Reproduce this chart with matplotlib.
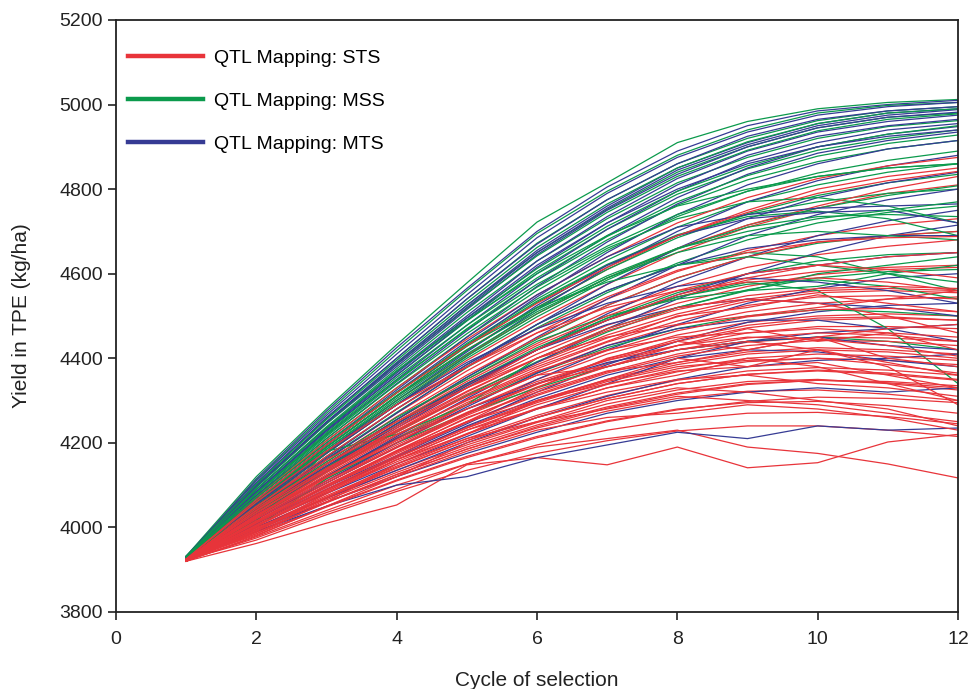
import numpy as np
from matplotlib import pyplot as plt
from matplotlib.lines import Line2D

# Cycle of selection
cycles = list(range(1, 13))

# QTL Mapping: STS (red) - yield per cycle
sts = [
    [3925, 4060, 4190, 4310, 4420, 4520, 4610, 4690, 4750, 4800, 4830, 4850],
    [3922, 4050, 4175, 4290, 4395, 4490, 4575, 4650, 4710, 4755, 4790, 4810],
    [3924, 4045, 4160, 4270, 4370, 4460, 4540, 4605, 4655, 4690, 4715, 4730],
    [3920, 4040, 4150, 4255, 4350, 4435, 4510, 4570, 4615, 4645, 4665, 4680],
    [3926, 4035, 4140, 4240, 4330, 4410, 4478, 4530, 4570, 4598, 4610, 4615],
    [3921, 4030, 4132, 4228, 4315, 4390, 4455, 4505, 4540, 4560, 4565, 4560],
    [3923, 4025, 4122, 4212, 4295, 4368, 4430, 4478, 4510, 4530, 4540, 4545],
    [3925, 4020, 4115, 4200, 4280, 4350, 4410, 4455, 4485, 4500, 4505, 4500],
    [3920, 4015, 4105, 4188, 4265, 4332, 4388, 4430, 4460, 4475, 4475, 4470],
    [3922, 4012, 4098, 4178, 4250, 4315, 4368, 4410, 4438, 4450, 4448, 4440],
    [3924, 4008, 4090, 4168, 4238, 4300, 4350, 4390, 4415, 4425, 4420, 4410],
    [3921, 4005, 4082, 4155, 4222, 4282, 4330, 4368, 4392, 4400, 4395, 4385],
    [3923, 4000, 4075, 4145, 4210, 4265, 4312, 4348, 4370, 4378, 4372, 4360],
    [3920, 3995, 4068, 4135, 4195, 4248, 4292, 4325, 4345, 4350, 4340, 4325],
    [3925, 3990, 4060, 4125, 4185, 4235, 4275, 4305, 4322, 4325, 4315, 4300],
    [3922, 3985, 4050, 4112, 4168, 4215, 4252, 4280, 4295, 4298, 4288, 4270],
    [3921, 3978, 4040, 4100, 4150, 4195, 4230, 4255, 4270, 4272, 4262, 4245],
    [3924, 3970, 4030, 4085, 4135, 4175, 4205, 4228, 4240, 4240, 4230, 4215],
    [3920, 3962, 4010, 4053, 4148, 4165, 4148, 4190, 4141, 4153, 4202, 4220],
    [3922, 3975, 4035, 4090, 4150, 4190, 4210, 4230, 4190, 4175, 4150, 4117],
    [3924, 4070, 4205, 4330, 4445, 4550, 4640, 4720, 4780, 4825, 4855, 4875],
    [3921, 4055, 4180, 4300, 4408, 4505, 4590, 4660, 4715, 4760, 4800, 4830],
    [3923, 4042, 4155, 4262, 4360, 4448, 4525, 4590, 4640, 4675, 4690, 4700],
    [3925, 4038, 4145, 4245, 4338, 4420, 4490, 4545, 4585, 4605, 4615, 4620],
    [3920, 4028, 4130, 4225, 4310, 4385, 4448, 4498, 4535, 4555, 4560, 4555],
    [3922, 4018, 4110, 4195, 4272, 4340, 4395, 4440, 4472, 4490, 4495, 4490],
    [3924, 4010, 4095, 4175, 4248, 4312, 4365, 4405, 4430, 4442, 4440, 4430],
    [3921, 4003, 4085, 4160, 4230, 4290, 4338, 4375, 4400, 4410, 4405, 4395],
    [3923, 3998, 4072, 4142, 4205, 4260, 4305, 4340, 4362, 4370, 4362, 4348],
    [3920, 3992, 4065, 4130, 4190, 4242, 4285, 4318, 4340, 4348, 4342, 4330],
    [3925, 3982, 4048, 4110, 4165, 4212, 4250, 4278, 4298, 4308, 4305, 4295],
    [3922, 4048, 4168, 4280, 4380, 4470, 4545, 4608, 4650, 4675, 4685, 4688],
    [3920, 4032, 4138, 4235, 4322, 4400, 4465, 4515, 4548, 4565, 4570, 4565],
    [3924, 4022, 4118, 4208, 4290, 4360, 4418, 4465, 4498, 4515, 4518, 4510],
    [3921, 4012, 4100, 4182, 4258, 4325, 4380, 4420, 4448, 4460, 4455, 4440],
    [3923, 4005, 4088, 4165, 4235, 4298, 4348, 4385, 4410, 4420, 4415, 4400],
    [3920, 3995, 4070, 4140, 4205, 4260, 4305, 4340, 4362, 4372, 4365, 4350],
    [3925, 4065, 4195, 4318, 4430, 4530, 4615, 4690, 4745, 4790, 4820, 4842],
    [3922, 4025, 4125, 4218, 4302, 4375, 4438, 4488, 4525, 4545, 4548, 4540],
    [3924, 4015, 4105, 4190, 4268, 4338, 4398, 4445, 4478, 4495, 4498, 4490],
    [3921, 3988, 4058, 4125, 4185, 4238, 4282, 4315, 4338, 4348, 4345, 4335],
    [3922, 4010, 4090, 4170, 4250, 4330, 4400, 4440, 4420, 4450, 4400, 4380],
    [3924, 4030, 4120, 4200, 4290, 4360, 4380, 4430, 4470, 4440, 4460, 4420],
    [3920, 4000, 4060, 4150, 4220, 4300, 4350, 4400, 4380, 4420, 4390, 4360],
    [3925, 4040, 4140, 4230, 4310, 4380, 4440, 4500, 4520, 4550, 4530, 4510],
    [3921, 3990, 4080, 4160, 4230, 4280, 4330, 4360, 4400, 4380, 4340, 4300],
    [3923, 4020, 4110, 4190, 4270, 4340, 4380, 4420, 4440, 4420, 4380, 4290],
    [3922, 4050, 4160, 4250, 4330, 4400, 4450, 4480, 4500, 4520, 4540, 4560],
    [3920, 3980, 4050, 4120, 4200, 4250, 4300, 4330, 4320, 4300, 4280, 4240],
    [3924, 4035, 4135, 4230, 4320, 4400, 4470, 4520, 4540, 4530, 4500, 4460],
    [3921, 4015, 4095, 4180, 4260, 4320, 4370, 4390, 4420, 4450, 4470, 4480],
    [3925, 4060, 4180, 4290, 4380, 4460, 4520, 4560, 4580, 4590, 4580, 4560],
    [3922, 4005, 4080, 4160, 4220, 4280, 4320, 4350, 4360, 4340, 4330, 4310],
    [3920, 3995, 4070, 4150, 4210, 4250, 4280, 4310, 4300, 4290, 4270, 4250],
    [3923, 4025, 4130, 4220, 4300, 4370, 4420, 4450, 4460, 4470, 4460, 4450],
    [3924, 4045, 4150, 4240, 4330, 4420, 4490, 4550, 4590, 4620, 4640, 4650],
    [3921, 4012, 4100, 4180, 4250, 4300, 4340, 4370, 4380, 4390, 4360, 4330],
    [3925, 3985, 4060, 4120, 4180, 4230, 4260, 4270, 4290, 4280, 4260, 4230],
    [3922, 4028, 4118, 4205, 4280, 4345, 4395, 4430, 4450, 4445, 4430, 4405],
    [3920, 4040, 4150, 4250, 4345, 4430, 4500, 4560, 4600, 4620, 4610, 4590],
    [3924, 4002, 4085, 4165, 4235, 4295, 4345, 4380, 4395, 4400, 4385, 4365],
]

# QTL Mapping: MSS (green)
mss = [
    [3932, 4120, 4280, 4432, 4578, 4722, 4815, 4910, 4960, 4990, 5005, 5012],
    [3931, 4112, 4270, 4418, 4560, 4695, 4795, 4880, 4940, 4980, 4998, 5005],
    [3930, 4105, 4258, 4400, 4540, 4672, 4775, 4860, 4920, 4962, 4985, 4995],
    [3932, 4098, 4248, 4388, 4525, 4650, 4752, 4840, 4900, 4945, 4970, 4980],
    [3930, 4090, 4238, 4375, 4508, 4630, 4730, 4815, 4875, 4920, 4948, 4962],
    [3929, 4082, 4225, 4360, 4488, 4605, 4705, 4788, 4848, 4892, 4920, 4940],
    [3931, 4076, 4215, 4345, 4470, 4585, 4680, 4762, 4822, 4865, 4895, 4915],
    [3930, 4070, 4205, 4330, 4450, 4560, 4655, 4735, 4795, 4838, 4868, 4890],
    [3930, 4064, 4195, 4318, 4435, 4540, 4632, 4710, 4770, 4810, 4840, 4860],
    [3929, 4058, 4185, 4305, 4418, 4520, 4610, 4685, 4742, 4785, 4815, 4835],
    [3930, 4052, 4175, 4290, 4400, 4498, 4585, 4658, 4715, 4755, 4785, 4808],
    [3931, 4060, 4190, 4312, 4428, 4532, 4620, 4690, 4740, 4770, 4790, 4800],
    [3930, 4045, 4162, 4272, 4378, 4472, 4555, 4625, 4680, 4720, 4745, 4760],
    [3930, 4040, 4150, 4255, 4355, 4445, 4525, 4590, 4640, 4672, 4690, 4700],
    [3929, 4035, 4140, 4240, 4335, 4420, 4495, 4555, 4600, 4630, 4645, 4650],
    [3930, 4030, 4130, 4225, 4312, 4392, 4462, 4520, 4562, 4590, 4605, 4610],
    [3930, 4072, 4210, 4338, 4458, 4568, 4660, 4730, 4770, 4780, 4760, 4720],
    [3931, 4085, 4232, 4368, 4495, 4612, 4712, 4795, 4855, 4900, 4930, 4950],
    [3930, 4025, 4120, 4210, 4290, 4365, 4425, 4470, 4500, 4515, 4510, 4500],
    [3929, 4000, 4115, 4200, 4270, 4330, 4380, 4420, 4440, 4450, 4440, 4420],
    [3930, 4050, 4168, 4280, 4385, 4480, 4560, 4620, 4650, 4640, 4600, 4560],
    [3930, 4095, 4245, 4385, 4518, 4642, 4745, 4830, 4892, 4938, 4965, 4978],
    [3930, 4040, 4150, 4250, 4340, 4420, 4490, 4545, 4580, 4560, 4470, 4340],
    [3930, 4065, 4195, 4318, 4432, 4535, 4622, 4692, 4735, 4748, 4730, 4690],
    [3931, 4080, 4222, 4355, 4478, 4590, 4688, 4770, 4832, 4878, 4908, 4928],
    [3930, 4055, 4178, 4295, 4405, 4505, 4590, 4660, 4710, 4735, 4740, 4735],
    [3929, 4035, 4142, 4245, 4340, 4425, 4495, 4545, 4575, 4585, 4570, 4540],
    [3930, 4102, 4255, 4395, 4532, 4662, 4765, 4850, 4912, 4955, 4980, 4990],
    [3930, 4015, 4180, 4220, 4290, 4400, 4470, 4520, 4560, 4600, 4620, 4640],
    [3930, 4060, 4185, 4300, 4410, 4510, 4590, 4650, 4690, 4700, 4690, 4680],
    [3930, 4070, 4200, 4320, 4430, 4520, 4580, 4620, 4640, 4620, 4600, 4580],
    [3931, 4090, 4235, 4370, 4490, 4600, 4690, 4760, 4800, 4830, 4850, 4860],
    [3930, 4045, 4155, 4260, 4350, 4440, 4500, 4540, 4560, 4570, 4600, 4620],
    [3929, 4080, 4218, 4348, 4468, 4575, 4665, 4740, 4795, 4830, 4850, 4860],
    [3930, 4062, 4190, 4310, 4420, 4515, 4595, 4660, 4700, 4730, 4750, 4770],
]

# QTL Mapping: MTS (blue)
mts = [
    [3930, 4115, 4275, 4425, 4565, 4700, 4805, 4890, 4950, 4985, 5000, 5010],
    [3931, 4110, 4265, 4410, 4550, 4685, 4790, 4875, 4935, 4975, 4995, 5005],
    [3929, 4105, 4260, 4400, 4540, 4670, 4775, 4860, 4925, 4965, 4985, 4995],
    [3930, 4100, 4250, 4390, 4525, 4655, 4760, 4850, 4910, 4955, 4980, 4990],
    [3932, 4095, 4245, 4380, 4515, 4645, 4750, 4835, 4900, 4945, 4970, 4982],
    [3930, 4090, 4235, 4370, 4500, 4630, 4735, 4825, 4890, 4935, 4960, 4975],
    [3928, 4085, 4228, 4360, 4490, 4615, 4720, 4810, 4880, 4925, 4950, 4965],
    [3930, 4080, 4220, 4350, 4478, 4600, 4705, 4795, 4865, 4910, 4940, 4955],
    [3931, 4075, 4210, 4340, 4465, 4585, 4690, 4780, 4850, 4900, 4930, 4948],
    [3929, 4070, 4200, 4325, 4450, 4570, 4675, 4765, 4835, 4885, 4915, 4935],
    [3930, 4060, 4190, 4310, 4430, 4545, 4650, 4740, 4810, 4860, 4895, 4915],
    [3930, 4050, 4175, 4290, 4405, 4515, 4615, 4700, 4770, 4820, 4855, 4880],
    [3928, 4045, 4160, 4270, 4380, 4480, 4575, 4660, 4730, 4780, 4815, 4840],
    [3930, 4040, 4150, 4255, 4355, 4450, 4540, 4620, 4690, 4740, 4775, 4800],
    [3929, 4030, 4135, 4235, 4330, 4420, 4505, 4580, 4640, 4690, 4725, 4750],
    [3930, 4025, 4120, 4215, 4305, 4390, 4470, 4540, 4600, 4650, 4690, 4715],
    [3928, 4020, 4105, 4190, 4270, 4350, 4420, 4480, 4530, 4565, 4590, 4600],
    [3930, 4015, 4095, 4170, 4245, 4320, 4385, 4440, 4485, 4510, 4525, 4530],
    [3927, 4005, 4080, 4150, 4215, 4280, 4340, 4400, 4440, 4460, 4470, 4480],
    [3929, 4000, 4070, 4135, 4200, 4260, 4310, 4350, 4380, 4395, 4400, 4410],
    [3928, 3995, 4060, 4120, 4175, 4225, 4270, 4300, 4320, 4330, 4320, 4330],
    [3926, 3990, 4050, 4100, 4120, 4165, 4195, 4225, 4210, 4240, 4230, 4235],
    [3930, 4035, 4140, 4240, 4335, 4420, 4480, 4520, 4540, 4530, 4520, 4500],
    [3931, 4065, 4195, 4320, 4440, 4550, 4640, 4710, 4740, 4755, 4760, 4765],
    [3930, 4085, 4230, 4365, 4495, 4620, 4720, 4800, 4860, 4900, 4925, 4940],
    [3929, 4098, 4248, 4385, 4520, 4650, 4755, 4845, 4905, 4950, 4975, 4988],
    [3928, 4010, 4090, 4165, 4240, 4305, 4360, 4400, 4420, 4415, 4395, 4380],
    [3930, 4055, 4180, 4300, 4415, 4525, 4620, 4690, 4730, 4745, 4750, 4720],
    [3930, 4045, 4165, 4280, 4385, 4480, 4560, 4620, 4660, 4680, 4690, 4690],
    [3929, 4020, 4110, 4200, 4285, 4365, 4430, 4470, 4490, 4490, 4470, 4440],
    [3930, 4040, 4145, 4245, 4340, 4420, 4490, 4550, 4600, 4620, 4640, 4650],
    [3929, 4060, 4180, 4290, 4390, 4470, 4530, 4570, 4590, 4580, 4560, 4530],
    [3930, 4030, 4120, 4210, 4280, 4340, 4390, 4420, 4440, 4450, 4430, 4420],
]

labels = ['QTL Mapping: STS', 'QTL Mapping: MSS', 'QTL Mapping: MTS']
red = '#e8343a' ; green = '#0b9a4c' ; blue = '#363b94'

plt.rcParams['font.family'] = ['Liberation Sans', 'DejaVu Sans']

fig = plt.figure(figsize=(9.68, 6.89), dpi=100)
ax = fig.add_axes([0.1198, 0.1118, 0.8699, 0.8592])

# interleave the groups so no colour sits entirely on top
n = max(len(sts), len(mss), len(mts))
for i in range(n):
    if i < len(sts):
        ax.plot(cycles, sts[i], color=red, lw=0.9)
    if i < len(mss):
        ax.plot(cycles, mss[i], color=green, lw=0.9)
    if i < len(mts):
        ax.plot(cycles, mts[i], color=blue, lw=0.9)

ax.set_xlim(0, 12) ; ax.set_ylim(3800, 5200)
ax.set_xticks(range(0, 13, 2)) ; ax.set_yticks(range(3800, 5201, 200))
ax.tick_params(direction='out', length=6, width=1.2, labelsize=14, color='#222222',
               labelcolor='#222222')
ax.tick_params(axis='x', pad=8)
for s in ax.spines.values():
    s.set_linewidth(1.3) ; s.set_color('#222222')
ax.set_xlabel('Cycle of selection', fontsize=15, labelpad=16, color='#222222')
ax.set_ylabel('Yield in TPE (kg/ha)', fontsize=15, labelpad=20, color='#222222')

handles = [Line2D([0], [0], color=c, lw=3.2) for c in (red, green, blue)]
ax.legend(handles, labels, loc='upper left', bbox_to_anchor=(0.0143, 0.950),
          borderaxespad=0, borderpad=0,
          frameon=False, fontsize=14, handlelength=3.86, handletextpad=0.55,
          labelspacing=1.29)

fig.savefig('out.png', dpi=100)
